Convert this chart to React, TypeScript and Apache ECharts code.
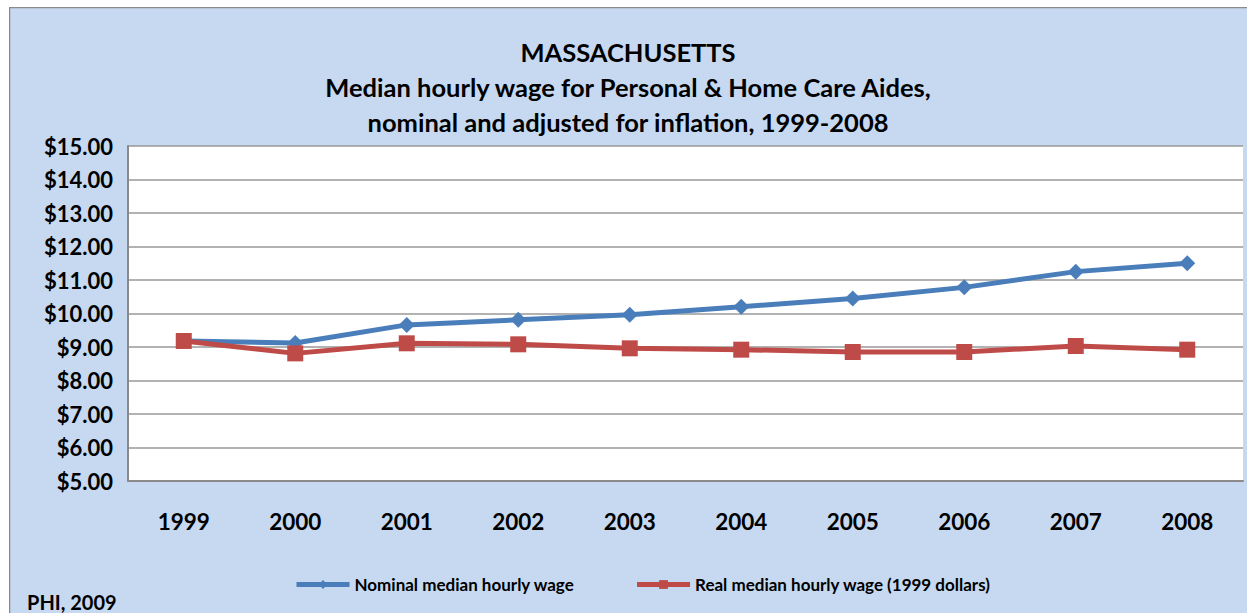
import React, { useEffect, useRef } from "react";
import * as echarts from "echarts";

const years = ["1999", "2000", "2001", "2002", "2003", "2004", "2005", "2006", "2007", "2008"];
const nominalWage = [9.18, 9.12, 9.66, 9.81, 9.96, 10.2, 10.45, 10.78, 11.25, 11.5];
const realWage = [9.18, 8.81, 9.11, 9.08, 8.96, 8.92, 8.85, 8.85, 9.03, 8.92];
const titleLines = [
  "MASSACHUSETTS",
  "Median hourly wage for Personal & Home Care Aides,",
  "nominal and adjusted for inflation, 1999-2008",
];
const seriesNames = ["Nominal median hourly wage", "Real median hourly wage (1999 dollars)"];
const sourceNote = "PHI, 2009";

const FONT = "Lato, 'Open Sans', sans-serif";
const BLUE = "#4a7ebb";
const RED = "#be4b48";

export default function App() {
  const ref = useRef<HTMLDivElement>(null);
  useEffect(() => {
    if (!ref.current) return;
    const chart = echarts.init(ref.current, undefined, { renderer: "svg" });
    chart.setOption({
      animation: false,
      backgroundColor: "#c6d9f1",
      textStyle: { fontFamily: FONT },
      title: {
        text: titleLines.join("\n"),
        left: "center",
        top: 22,
        textStyle: { fontSize: 25.5, fontWeight: "bold", color: "#000", lineHeight: 35, fontFamily: FONT },
      },
      grid: { left: 119, top: 139, right: 4, bottom: 132, show: true, backgroundColor: "#fff", borderWidth: 0 },
      xAxis: {
        type: "category",
        data: years,
        boundaryGap: true,
        axisLine: { show: true, lineStyle: { color: "#8a8a8a", width: 2 } },
        axisTick: { show: false },
        axisLabel: { margin: 29, fontSize: 22.5, fontWeight: "bold", color: "#000", fontFamily: FONT },
      },
      yAxis: {
        type: "value",
        min: 5,
        max: 15,
        interval: 1,
        axisLine: { show: true, lineStyle: { color: "#8a8a8a", width: 2 } },
        axisTick: { show: false },
        splitLine: { lineStyle: { color: "#999", width: 1.5 } },
        axisLabel: {
          margin: 15,
          fontSize: 22,
          fontWeight: "bold",
          color: "#000",
          fontFamily: FONT,
          formatter: (v: number) => "$" + v.toFixed(2),
        },
      },
      legend: {
        left: 280,
        top: 564,
        itemWidth: 53,
        itemHeight: 11,
        itemGap: 60,
        textStyle: { fontSize: 17, fontWeight: "bold", color: "#000", fontFamily: FONT },
        data: [
          { name: seriesNames[0], lineStyle: { width: 5, color: BLUE } },
          { name: seriesNames[1], lineStyle: { width: 5, color: RED } },
        ],
      },
      series: [
        {
          name: seriesNames[0],
          type: "line",
          data: nominalWage,
          symbol: "diamond",
          symbolSize: 16,
          lineStyle: { color: BLUE, width: 5 },
          itemStyle: { color: BLUE },
        },
        {
          name: seriesNames[1],
          type: "line",
          data: realWage,
          symbol: "rect",
          symbolSize: 16,
          lineStyle: { color: RED, width: 5 },
          itemStyle: { color: RED },
        },
      ],
      graphic: [
        { type: "line", shape: { x1: 0.5, y1: 0, x2: 0.5, y2: 606 }, style: { stroke: "#8a8a8a", lineWidth: 1.5 } },
        { type: "line", shape: { x1: 0, y1: 0.5, x2: 1238, y2: 0.5 }, style: { stroke: "#8a8a8a", lineWidth: 1.5 } },
        {
          type: "text",
          left: 18,
          top: 585,
          style: { text: sourceNote, fontSize: 20, fontWeight: "bold", fill: "#000", fontFamily: FONT },
        },
      ],
    });
    return () => chart.dispose();
  }, []);
  return (
    <div
      ref={ref}
      style={{ position: "absolute", left: 9, top: 7, width: 1238, height: 606 }}
    />
  );
}
